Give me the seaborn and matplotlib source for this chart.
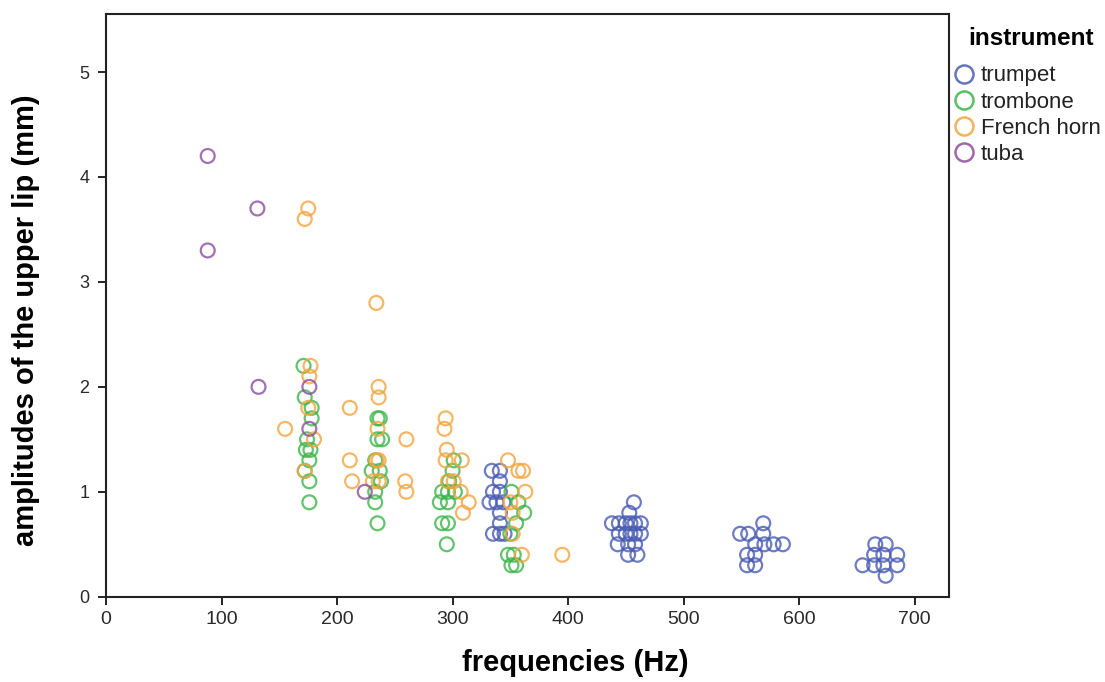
import numpy as np
import pandas as pd
import seaborn as sns
import matplotlib.pyplot as plt
from matplotlib.lines import Line2D

sns.set_theme(style="white")
plt.rcParams["font.family"] = ["Liberation Sans", "DejaVu Sans"]

instruments = ["trumpet", "trombone", "French horn", "tuba"]
colors = ["#4a5cb4", "#3db54a", "#f3a53f", "#8c4d9e"]

trumpet_hz = [334, 341, 341, 335, 341, 332, 338, 344, 341, 341, 335, 341, 345,
              457, 453, 438, 444, 450, 454, 458, 463, 444, 450, 454, 458, 463,
              443, 452, 458, 452, 460,
              549, 556, 569, 569, 562, 570, 578, 586, 555, 562, 555, 562,
              666, 675, 665, 673, 685, 655, 665, 673, 685, 675]
trumpet_mm = [1.2, 1.2, 1.1, 1.0, 1.0, 0.9, 0.9, 0.9, 0.8, 0.7, 0.6, 0.6, 0.6,
              0.9, 0.8, 0.7, 0.7, 0.7, 0.7, 0.7, 0.7, 0.6, 0.6, 0.6, 0.6, 0.6,
              0.5, 0.5, 0.5, 0.4, 0.4,
              0.6, 0.6, 0.7, 0.6, 0.5, 0.5, 0.5, 0.5, 0.4, 0.4, 0.3, 0.3,
              0.5, 0.5, 0.4, 0.4, 0.4, 0.3, 0.3, 0.3, 0.3, 0.2]

trombone_hz = [171, 172, 178, 178, 174, 177, 173, 176, 172, 176, 176,
               235, 237, 235, 239, 233, 237, 230, 238, 233, 233, 235,
               301, 300, 297, 291, 296, 302, 289, 296, 291, 296, 295,
               351, 357, 362, 355, 350, 348, 353, 351, 355]
trombone_mm = [2.2, 1.9, 1.8, 1.7, 1.5, 1.4, 1.4, 1.3, 1.2, 1.1, 0.9,
               1.7, 1.7, 1.5, 1.5, 1.3, 1.2, 1.2, 1.1, 1.0, 0.9, 0.7,
               1.3, 1.2, 1.1, 1.0, 1.0, 1.0, 0.9, 0.9, 0.7, 0.7, 0.5,
               1.0, 0.9, 0.8, 0.7, 0.6, 0.4, 0.4, 0.3, 0.3]

horn_hz = [155, 172, 175, 177, 176, 175, 180, 172,
           211, 211, 213,
           234, 236, 236, 235, 234, 236, 231, 236,
           260, 259, 260,
           294, 293, 295, 294, 308, 296, 301, 307, 314, 309,
           348, 357, 361, 363, 350, 352, 352, 360,
           395]
horn_mm = [1.6, 3.6, 3.7, 2.2, 2.1, 1.8, 1.5, 1.2,
           1.8, 1.3, 1.1,
           2.8, 2.0, 1.9, 1.6, 1.3, 1.3, 1.1, 1.1,
           1.5, 1.1, 1.0,
           1.7, 1.6, 1.4, 1.3, 1.3, 1.1, 1.1, 1.0, 0.9, 0.8,
           1.3, 1.2, 1.2, 1.0, 0.9, 0.8, 0.6, 0.4,
           0.4]

tuba_hz = [88, 131, 88, 132, 176, 176, 224]
tuba_mm = [4.2, 3.7, 3.3, 2.0, 2.0, 1.6, 1.0]

df = pd.concat([
    pd.DataFrame({"hz": trumpet_hz, "mm": trumpet_mm, "instrument": "trumpet"}),
    pd.DataFrame({"hz": trombone_hz, "mm": trombone_mm, "instrument": "trombone"}),
    pd.DataFrame({"hz": horn_hz, "mm": horn_mm, "instrument": "French horn"}),
    pd.DataFrame({"hz": tuba_hz, "mm": tuba_mm, "instrument": "tuba"}),
])

fig = plt.figure(figsize=(11.05, 6.82), dpi=100)
ax = fig.add_axes([0.096, 0.125, 0.763, 0.854])

sns.scatterplot(ax=ax, data=df, x="hz", y="mm", hue="instrument",
                hue_order=instruments, palette=colors, s=100, legend=False)

# hollow circles like the original
pts = ax.collections[0]
fc = pts.get_facecolors()
pts.set_facecolors("none")
pts.set_edgecolors(fc)
pts.set_linewidths(1.6)
pts.set_alpha(0.8)

ax.set_xlim(0, 730)
ax.set_ylim(0, 5.55)
ax.set_xticks(range(0, 701, 100))
ax.set_yticks(range(0, 6))
ax.tick_params(axis="both", direction="out", length=6, width=1.2,
               colors="black", labelcolor="#2a2a2a", bottom=True, left=True)
ax.tick_params(axis="x", labelsize=14, pad=4)
ax.tick_params(axis="y", labelsize=13, pad=6)
for sp in ax.spines.values():
    sp.set_visible(True)
    sp.set_color("#222222")
    sp.set_linewidth(1.5)

ax.set_xlabel("frequencies (Hz)", fontsize=21, fontweight="bold", color="black")
ax.set_ylabel("amplitudes of the upper lip (mm)", fontsize=21,
              fontweight="bold", color="black")
ax.xaxis.set_label_coords(0.556, -0.09)
ax.yaxis.set_label_coords(-0.078, 0.475)

# legend: title as separate text so the gap matches the original
fig.text(0.876, 0.944, "instrument", fontsize=17.5, fontweight="bold",
         color="black", va="center", ha="left")
handles = [Line2D([], [], marker="o", linestyle="none", markersize=13,
                  markerfacecolor="none", markeredgecolor=c,
                  markeredgewidth=1.8, alpha=0.85) for c in colors]
leg = fig.legend(handles, instruments, frameon=False,
                 loc="upper left", bbox_to_anchor=(0.863, 0.904),
                 fontsize=16, handlelength=0.9, handletextpad=0.32,
                 labelspacing=0.23, borderpad=0, borderaxespad=0)
for t in leg.get_texts():
    t.set_color("#222222")

fig.savefig("out.png", dpi=100)
